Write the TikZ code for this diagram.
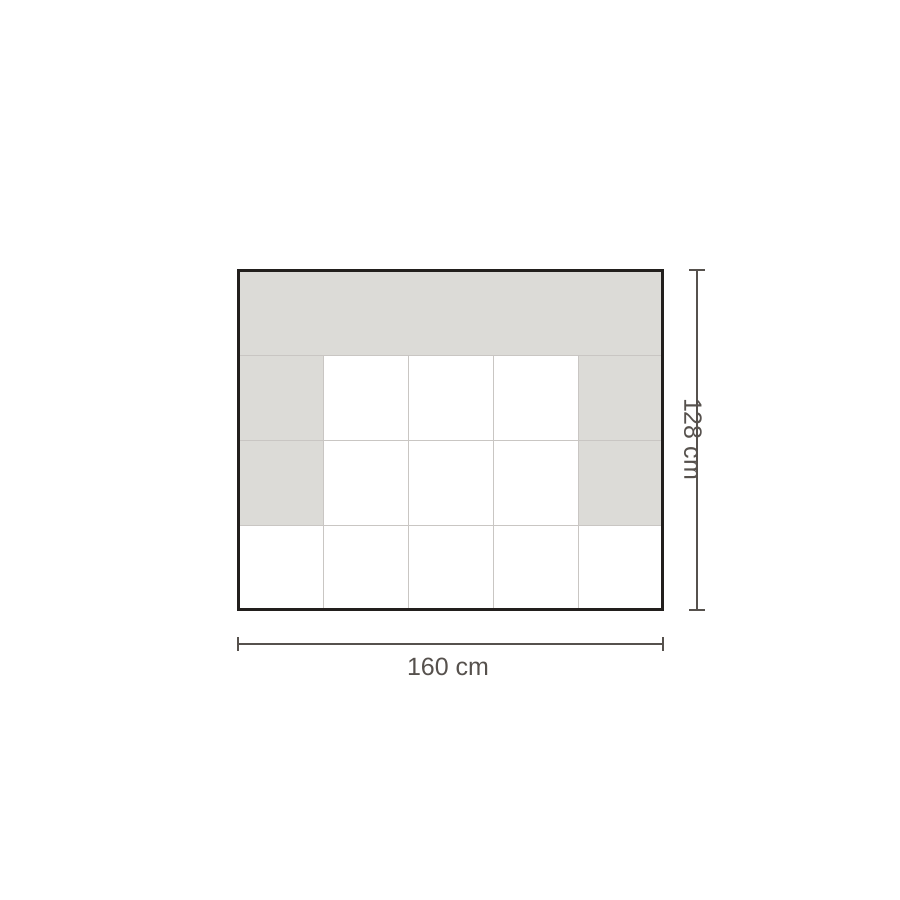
\documentclass[tikz,border=0pt]{standalone}
\usepackage{fontspec}
\setmainfont{Liberation Sans}
\definecolor{panel}{HTML}{DCDBD7}
\definecolor{gridc}{HTML}{C9C6C3}
\definecolor{frame}{HTML}{221F1D}
\definecolor{dimc}{HTML}{56514D}
\begin{document}
\begin{tikzpicture}[x=1pt,y=-1pt,
  gridline/.style={draw=gridc,line width=1pt},
  dimline/.style={draw=dimc,line width=2pt},
  dimlabel/.style={text=dimc,font=\fontsize{25}{29}\selectfont,inner sep=0pt}]
\useasboundingbox (0,0) rectangle (900,900);
% gray panels
\fill[panel] (238,270) rectangle (663,355);
\fill[panel] (238,355) rectangle (323,525);
\fill[panel] (578,355) rectangle (663,525);
% grid
\foreach \x in {323,408,493,578} \draw[gridline] (\x,270) -- (\x,610);
\foreach \y in {355,440,525} \draw[gridline] (238,\y) -- (663,\y);
% top gray row has no internal lines: repaint
\fill[panel] (238.5,270) rectangle (662.5,354.5);
% frame
\draw[frame,line width=3pt] (238,270.5) rectangle (662.5,609.5);
% horizontal dimension
\coordinate (hl) at (238,644);
\coordinate (hr) at (663,644);
\draw[dimline] (hl) -- (hr);
\draw[dimline] (238,637) -- (238,651);
\draw[dimline] (663,637) -- (663,651);
\node[dimlabel] (wlab) at (448,667) {160 cm};
% vertical dimension
\coordinate (vt) at (697,270);
\coordinate (vb) at (697,610);
\draw[dimline] (vt) -- (vb);
\draw[dimline] (689,270) -- (705,270);
\draw[dimline] (689,610) -- (705,610);
\node[dimlabel,rotate=-90] (hlab) at (693,439) {128 cm};
\end{tikzpicture}
\end{document}
